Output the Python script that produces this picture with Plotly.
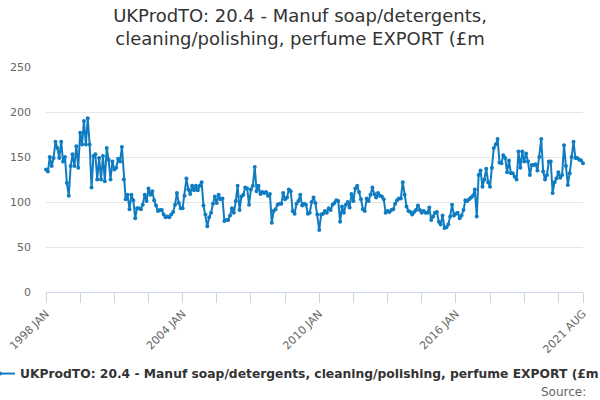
import plotly.graph_objects as go

# monthly export turnover, £m, 1998 JAN .. 2021 AUG
years = list(range(1998, 2022))
month_names = ["JAN", "FEB", "MAR", "APR", "MAY", "JUN",
               "JUL", "AUG", "SEP", "OCT", "NOV", "DEC"]

export_values = [
    136, 134, 150, 140, 149, 167, 160, 149, 167, 145, 150, 121,  # 1998
    107, 140, 153, 140, 162, 138, 177, 164, 190, 164, 193, 164,  # 1999
    116, 151, 153, 125, 149, 125, 151, 123, 160, 147, 125, 145,  # 2000
    136, 138, 148, 145, 161, 125, 103, 108, 92, 108, 102, 82,    # 2001
    93, 93, 92, 97, 108, 101, 115, 108, 112, 102, 96, 90,        # 2002
    91, 91, 86, 83, 84, 83, 86, 89, 97, 110, 99, 93,             # 2003
    93, 107, 126, 114, 109, 118, 113, 118, 113, 118, 122, 96,    # 2004
    86, 73, 83, 88, 98, 106, 99, 108, 103, 104, 79, 80,          # 2005
    80, 85, 93, 88, 101, 118, 91, 106, 108, 116, 115, 97,        # 2006
    114, 118, 139, 112, 118, 109, 111, 110, 111, 107, 109, 77,   # 2007
    90, 92, 97, 98, 98, 110, 103, 105, 114, 112, 90, 87,         # 2008
    98, 101, 108, 96, 98, 97, 87, 88, 100, 105, 99, 86,          # 2009
    69, 86, 87, 90, 88, 93, 91, 97, 99, 102, 101, 78,            # 2010
    95, 88, 97, 100, 94, 109, 101, 115, 118, 111, 103, 92,       # 2011
    90, 104, 101, 108, 116, 109, 105, 110, 107, 106, 103, 88,    # 2012
    90, 89, 91, 92, 98, 102, 104, 104, 122, 108, 95, 90,         # 2013
    89, 86, 89, 91, 96, 91, 88, 90, 88, 88, 94, 80,              # 2014
    84, 88, 89, 78, 75, 85, 71, 72, 75, 84, 97, 85,              # 2015
    87, 88, 82, 85, 91, 102, 101, 103, 105, 107, 114, 84,        # 2016
    130, 135, 117, 125, 137, 122, 117, 138, 160, 164, 170, 144,  # 2017
    143, 152, 149, 133, 146, 132, 132, 128, 125, 156, 138, 156,  # 2018
    145, 154, 145, 130, 141, 141, 142, 135, 150, 170, 134, 125,  # 2019
    130, 145, 145, 110, 122, 126, 133, 127, 130, 163, 140, 119,  # 2020
    132, 150, 167, 149, 149, 147, 146, 143,                      # 2021
]

periods = [f"{y} {m}" for y in years for m in month_names][:len(export_values)]

series_name = "UKProdTO: 20.4 - Manuf soap/detergents, cleaning/polishing, perfume EXPORT (£m"
blue = "#0f7cc2"

# ticks every 18 months, labels every 72 months, plus the last month
tick_idx = list(range(0, len(periods), 18)) + [len(periods) - 1]
tick_text = [periods[i] if (i % 72 == 0 or i == len(periods) - 1) else "" for i in tick_idx]

fig = go.Figure()
fig.add_trace(go.Scatter(
    x=periods,
    y=export_values,
    mode="lines+markers",
    name=series_name,
    line=dict(color=blue, width=2),
    marker=dict(color=blue, size=4),
    cliponaxis=False,
))

fig.update_layout(
    width=600,
    height=400,
    margin=dict(l=46, r=17, t=67, b=108, autoexpand=False),
    paper_bgcolor="white",
    plot_bgcolor="white",
    font=dict(family="DejaVu Sans", color="#666666", size=11),
    title=dict(
        text="UKProdTO: 20.4 - Manuf soap/detergents,<br>cleaning/polishing, perfume EXPORT (£m",
        x=0.5, xanchor="center", y=0.945, yanchor="top",
        font=dict(size=18, color="#333333"),
        automargin=False,
    ),
    showlegend=True,
    legend=dict(
        orientation="h",
        x=-0.123, xanchor="left",
        y=-0.298, yanchor="top",
        font=dict(size=12.3, color="#333333", family="DejaVu Sans", weight="bold"),
        itemwidth=30,
    ),
    xaxis=dict(
        type="category",
        range=[0, len(periods) - 1],
        tickmode="array",
        tickvals=[periods[i] for i in tick_idx],
        ticktext=tick_text,
        tickangle=-45,
        ticks="outside",
        ticklen=10,
        tickcolor="#ccd6eb",
        showline=True,
        linecolor="#ccd6eb",
        showgrid=False,
        zeroline=False,
        automargin=False,
    ),
    yaxis=dict(
        range=[0, 250],
        tickvals=[0, 50, 100, 150, 200, 250],
        showgrid=True,
        gridcolor="#e6e6e6",
        zeroline=False,
        ticklabelstandoff=14,
        automargin=False,
    ),
)

fig.add_annotation(
    text="Source:", xref="paper", yref="paper",
    x=1.009, xanchor="right", y=-0.404, yanchor="top",
    showarrow=False, font=dict(size=12, color="#666666"),
)

# drop the default page margin so the 600x400 figure fills the window
fig.write_html(
    "out.html",
    config={"displayModeBar": False},
    post_script="document.body.style.margin = '0';",
)
